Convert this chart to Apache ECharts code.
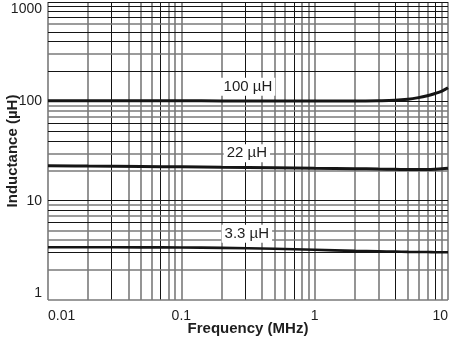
<!DOCTYPE html>
<html>
<head>
<meta charset="utf-8">
<script src="https://cdn.jsdelivr.net/npm/echarts@6/dist/echarts.min.js"></script>
<style>
html,body{margin:0;padding:0;background:#fff;}
#chart{width:450px;height:342px;}
</style>
</head>
<body>
<div id="chart"></div>
<script>
// ---- data ----
const freq = [0.01, 0.02, 0.05, 0.1, 0.2, 0.5, 1, 2, 3, 4, 5, 6, 7, 8, 9, 10];
const L100 = [101.5, 101.5, 101.3, 101.2, 101, 101, 101, 101, 101.5, 102.5, 105, 109, 114, 120, 127, 137];
const L22 = [22.5, 22.3, 22.1, 21.9, 21.7, 21.5, 21.2, 21.0, 20.8, 20.7, 20.6, 20.6, 20.6, 20.7, 20.9, 21.2];
const L3_3 = [3.40, 3.40, 3.39, 3.38, 3.35, 3.28, 3.20, 3.12, 3.09, 3.07, 3.05, 3.04, 3.04, 3.03, 3.03, 3.03];
const seriesNames = ['100 µH', '22 µH', '3.3 µH'];
const labelAt = [[0.316, 140], [0.31, 30], [0.31, 4.64]];
const xTickLabels = ['0.01', '0.1', '1', '10'];
const yTickLabels = ['1', '10', '100', '1000'];
const xGridValues = [0.01,0.02,0.03,0.04,0.05,0.06,0.07,0.08,0.09,0.1,0.2,0.3,0.4,0.5,0.6,0.7,0.8,0.9,1,2,3,4,5,6,7,8,9,10];
const yGridValues = [1,2,3,4,5,6,7,8,9,10,20,30,40,50,60,70,80,90,100,200,300,400,500,600,700,800,900,1000];

// ---- style ----
const xBlack = [0.03, 0.07, 0.3, 0.7, 4, 8];
const yGray = [1, 2, 4, 5, 7, 9, 20, 30, 70, 80, 90, 300, 600];
const GRAY = {color: '#7a7a7a', width: 1.6, type: 'solid'};
const BLACK = {color: '#151515', width: 1, type: 'solid'};
const TXT = '#1e1e1e';
const FONT = '"Liberation Sans", Arial, sans-serif';

const near = (a, v) => a.some(x => Math.abs(x - v) / v < 1e-6);
const vLines = xGridValues.map(v => ({xAxis: v, lineStyle: (near(xBlack, v) ? BLACK : GRAY)}));
const hLines = yGridValues.map(v => ({yAxis: v, lineStyle: (near(yGray, v) ? GRAY : BLACK)}));

const curves = [L100, L22, L3_3].map((arr, i) => ({
  type: 'line',
  name: seriesNames[i],
  data: freq.map((f, j) => [f, arr[j]]),
  smooth: 0.4,
  symbol: 'none',
  z: 5,
  lineStyle: {color: '#151515', width: i === 2 ? 2.6 : 3},
  animation: false,
  markPoint: {
    silent: true,
    symbol: 'rect',
    symbolSize: 0,
    animation: false,
    data: [{coord: labelAt[i]}],
    label: {
      show: true,
      formatter: seriesNames[i],
      position: 'inside',
      color: TXT,
      fontFamily: FONT,
      fontSize: 15,
      backgroundColor: '#fff',
      padding: [2, 3, 1, 3]
    }
  }
}));

const gridSeries = {
  type: 'line',
  data: [],
  silent: true,
  z: 1,
  animation: false,
  markLine: {
    silent: true,
    symbol: ['none', 'none'],
    label: {show: false},
    animation: false,
    data: vLines.concat(hLines)
  }
};

const chart = echarts.init(document.getElementById('chart'), null, {renderer: 'canvas'});
chart.setOption({
  backgroundColor: '#fff',
  animation: false,
  grid: {left: 48, right: 2, top: 2, bottom: 42, containLabel: false, outerBoundsMode: 'none'},
  xAxis: {
    type: 'log', logBase: 10, min: 0.01, max: 10,
    name: 'Frequency (MHz)', nameLocation: 'middle', nameGap: 21, nameMoveOverlap: false,
    nameTextStyle: {fontFamily: FONT, fontSize: 15, fontWeight: 'bold', color: TXT, verticalAlign: 'top'},
    axisLine: {show: false}, axisTick: {show: false}, splitLine: {show: false},
    axisLabel: {
      fontFamily: FONT, fontSize: 14, color: TXT, margin: 9,
      alignMinLabel: 'left', alignMaxLabel: 'right',
      formatter: v => {
        const k = Math.round(Math.log10(v)) + 2;
        return xTickLabels[k] !== undefined ? xTickLabels[k] : '';
      }
    }
  },
  yAxis: {
    type: 'log', logBase: 10, min: 1, max: 1000,
    name: 'Inductance (µH)', nameLocation: 'middle', nameGap: 28, nameMoveOverlap: false,
    nameTextStyle: {fontFamily: FONT, fontSize: 15, fontWeight: 'bold', color: TXT},
    axisLine: {show: false}, axisTick: {show: false}, splitLine: {show: false},
    axisLabel: {
      fontFamily: FONT, fontSize: 14, color: TXT, margin: 6,
      verticalAlignMinLabel: 'bottom', verticalAlignMaxLabel: 'top',
      formatter: v => {
        const k = Math.round(Math.log10(v));
        return yTickLabels[k] !== undefined ? yTickLabels[k] : '';
      }
    }
  },
  series: [gridSeries].concat(curves)
});
</script>
</body>
</html>
